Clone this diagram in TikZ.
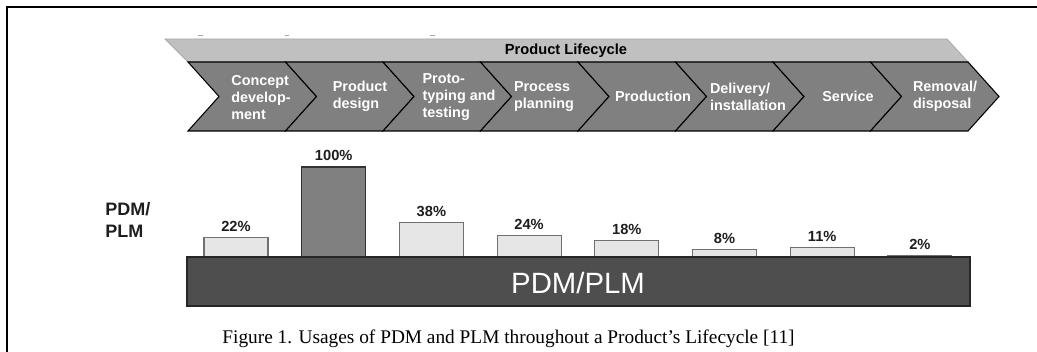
\documentclass[tikz,border=0pt]{standalone}
\usepackage{fontspec}
\setmainfont{Liberation Serif}
\newfontfamily\arial{Liberation Sans}
\definecolor{bandgray}{HTML}{C0C0C0}
\definecolor{bandedge}{HTML}{A8A8A8}
\definecolor{chevgray}{HTML}{808080}
\definecolor{barfill}{HTML}{E6E6E6}
\definecolor{baredge}{HTML}{707070}
\definecolor{basefill}{HTML}{4E4E4E}
\definecolor{labelcol}{HTML}{1E1E1E}
\begin{document}
\begin{tikzpicture}[x=0.75pt,y=-0.75pt,
  band/.style={fill=bandgray, draw=bandedge, line width=0.6pt},
  chev/.style={fill=chevgray, draw=black, line width=0.8pt, line join=miter},
  chevtext/.style={font=\arial\bfseries\fontsize{10.8}{12.8}\selectfont, text=white, align=left, inner sep=0pt},
  lightbar/.style={fill=barfill, draw=baredge, line width=0.8pt},
  darkbar/.style={fill=chevgray, draw=black!80, line width=0.8pt},
  pct/.style={font=\arial\bfseries\fontsize{11}{13}\selectfont, text=labelcol, anchor=base, inner sep=0pt},
  tick/.style={draw=black!35, line width=0.7pt}]
\useasboundingbox (0,0) rectangle (1037,352);

% page frame (left and top rules)
\draw[line width=1.4pt] (7,352) -- (7,7) -- (1037,7);

% small marks above the lifecycle band
\draw[tick] (198,35) -- (203,35);
\draw[tick] (285,35) -- (289,35);
\draw[tick] (430,35) -- (435,35);

% lifecycle header band
\draw[band] (165,39) -- (947,39) -- (968,62) -- (188,62) -- cycle;
\node[font=\arial\bfseries\fontsize{11}{13}\selectfont, text=black] (lifecycle) at (566,51) {Product Lifecycle};

% eight phase chevrons
\foreach \k in {0,...,7} {
  \pgfmathsetmacro{\xa}{188+97.5*\k}
  \pgfmathsetmacro{\xb}{188+97.5*(\k+1)}
  \draw[chev] (\xa,62) -- (\xb,62) -- (\xb+31,96.5) -- (\xb,131) -- (\xa,131) -- (\xa+31,96.5) -- cycle;
}

% phase labels
\node[chevtext] (p1) at (261,97.5) {Concept\\develop-\\ment};
\node[chevtext] (p2) at (360,96.5) {Product\\design};
\node[chevtext] (p3) at (459,97.5) {Proto-\\typing and\\testing};
\node[chevtext] (p4) at (544,96.5) {Process\\planning};
\node[chevtext] (p5) at (653,96.5) {Production};
\node[chevtext] (p6) at (748,96.5) {Delivery/\\installation};
\node[chevtext] (p7) at (848,96.5) {Service};
\node[chevtext] (p8) at (945,96.5) {Removal/\\disposal};

% row label
\node[font=\arial\bfseries\fontsize{13.5}{16.5}\selectfont, text=labelcol, align=left, anchor=west, inner sep=0pt] (rowlabel) at (105,220) {PDM/\\PLM};

% usage bars (height 0.9 px per percent, resting on the base at y = 257)
\foreach \i/\v/\s in {0/22/lightbar, 1/100/darkbar, 2/38/lightbar, 3/24/lightbar, 4/18/lightbar, 5/8/lightbar, 6/11/lightbar, 7/2/lightbar} {
  \pgfmathsetmacro{\cx}{236+97.7*\i}
  \pgfmathsetmacro{\top}{257-0.9*\v}
  \draw[\s] (\cx-32,257) rectangle (\cx+32,\top);
  \node[pct] (v\i) at (\cx,\top-6) {\v\%};
}

% PDM/PLM base
\node[draw=black!85, fill=basefill, line width=1.2pt, minimum width=783*0.75pt, minimum height=49*0.75pt, inner sep=0pt] (base) at (578.5,281.5) {};
\node[font=\arial\fontsize{22}{26}\selectfont, text=white, inner sep=0pt] (basetext) at (578,283) {PDM/PLM};

% caption
\node[font=\fontsize{14.5}{16}\selectfont, text=black, inner sep=0pt] (caption) at (508.5,339) {Figure 1. Usages of PDM and PLM throughout a Product’s Lifecycle [11]};
\end{tikzpicture}
\end{document}
